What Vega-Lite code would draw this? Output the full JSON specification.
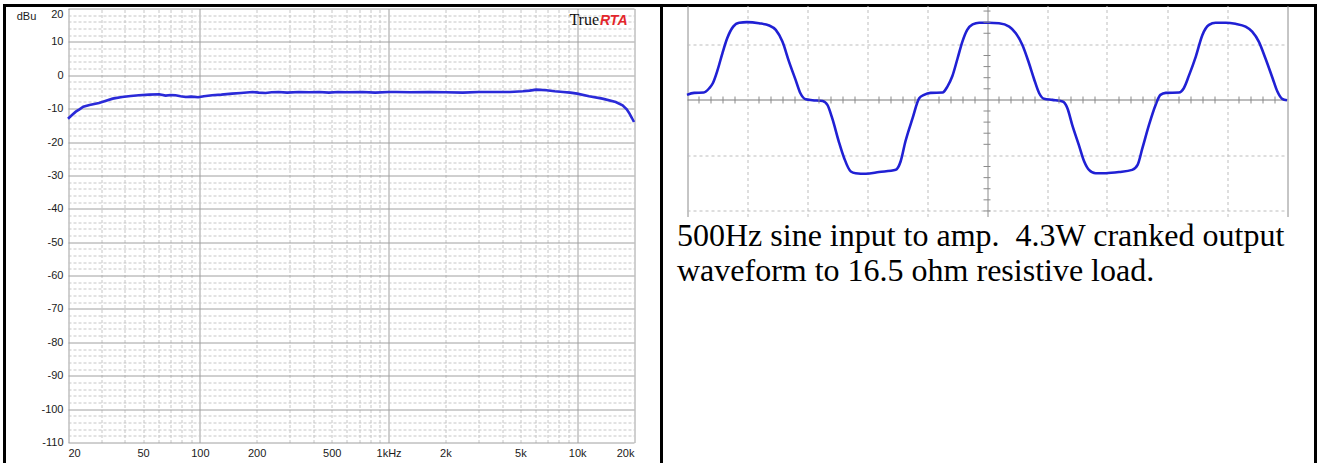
{
  "$schema": "https://vega.github.io/schema/vega-lite/v6.json",
  "background": "white",
  "padding": {"left": 2.5, "top": 3.5, "right": 0, "bottom": 0},
  "spacing": 0,
  "bounds": "flush",
  "config": {
    "view": {"stroke": "#000", "strokeWidth": 3},
    "axis": {"labelFont": "Liberation Sans", "labelFontSize": 11, "labelColor": "#1a1a1a", "titleFont": "Liberation Sans"}
  },
  "hconcat": [
    {
      "width": 657,
      "height": 461,
      "resolve": {"axis": {"x": "independent"}},
      "layer": [
        {
          "data": {"values": [
            {"f": 20, "db": -13.0}, {"f": 21, "db": -11.9}, {"f": 22, "db": -10.9}, {"f": 23, "db": -10.2},
            {"f": 24.1, "db": -9.4}, {"f": 26, "db": -8.9}, {"f": 29.2, "db": -8.3}, {"f": 31.5, "db": -7.7},
            {"f": 34.5, "db": -7.0}, {"f": 38.7, "db": -6.5}, {"f": 43, "db": -6.2}, {"f": 47.5, "db": -6.0},
            {"f": 54, "db": -5.8}, {"f": 60.8, "db": -5.7}, {"f": 65.9, "db": -6.1}, {"f": 70, "db": -5.9},
            {"f": 74.3, "db": -6.0}, {"f": 79, "db": -6.3}, {"f": 84, "db": -6.5}, {"f": 90, "db": -6.4},
            {"f": 98, "db": -6.6}, {"f": 105, "db": -6.3}, {"f": 116, "db": -6.0}, {"f": 130, "db": -5.8},
            {"f": 148, "db": -5.5}, {"f": 165, "db": -5.3}, {"f": 190, "db": -5.0}, {"f": 205, "db": -5.2},
            {"f": 223, "db": -5.3}, {"f": 240, "db": -5.1}, {"f": 262, "db": -5.0}, {"f": 290, "db": -5.2},
            {"f": 335, "db": -5.0}, {"f": 380, "db": -5.1}, {"f": 430, "db": -5.0}, {"f": 483, "db": -5.2},
            {"f": 540, "db": -5.0}, {"f": 600, "db": -5.1}, {"f": 726, "db": -5.0}, {"f": 850, "db": -5.2},
            {"f": 1000, "db": -5.0}, {"f": 1095, "db": -5.0}, {"f": 1300, "db": -5.1}, {"f": 1646, "db": -5.0},
            {"f": 2000, "db": -5.1}, {"f": 2473, "db": -5.2}, {"f": 3000, "db": -5.0}, {"f": 3717, "db": -5.0},
            {"f": 4400, "db": -5.0}, {"f": 5150, "db": -4.8}, {"f": 5600, "db": -4.6}, {"f": 6066, "db": -4.3},
            {"f": 6864, "db": -4.5}, {"f": 7600, "db": -4.8}, {"f": 8420, "db": -5.0}, {"f": 9200, "db": -5.2},
            {"f": 10000, "db": -5.5}, {"f": 11560, "db": -6.3}, {"f": 13590, "db": -7.0}, {"f": 16000, "db": -8.0},
            {"f": 17400, "db": -9.0}, {"f": 18300, "db": -10.2}, {"f": 18940, "db": -11.5}, {"f": 19500, "db": -12.8},
            {"f": 20000, "db": -14.0}
          ]},
          "mark": {"type": "line", "color": "#2a2ad8", "strokeWidth": 2.6, "clip": false},
          "encoding": {
            "x": {
              "field": "f", "type": "quantitative",
              "scale": {"type": "log", "domain": [20, 20000], "range": [63.5, 629.5], "nice": false},
              "axis": {
                "orient": "top", "title": null, "labels": false, "domain": false, "ticks": false, "tickCount": 200,
                "values": [20, 30, 40, 50, 60, 70, 80, 90, 100, 200, 300, 400, 500, 600, 700, 800, 900, 1000, 2000, 3000, 4000, 5000, 6000, 7000, 8000, 9000, 10000, 20000],
                "grid": true,
                "gridColor": {"condition": {"test": "datum.value==20 || datum.value==100 || datum.value==1000 || datum.value==10000 || datum.value==20000", "value": "#a0a0a0"}, "value": "#c6c6c6"},
                "gridDash": {"condition": {"test": "datum.value==20 || datum.value==100 || datum.value==1000 || datum.value==10000 || datum.value==20000", "value": []}, "value": [3, 2]}
              }
            },
            "y": {
              "field": "db", "type": "quantitative",
              "scale": {"domain": [-110, 20], "range": [437, 3], "nice": false, "zero": false},
              "axis": {
                "title": "dBu", "titleAngle": 0, "titleX": -42, "titleY": 11, "titleAlign": "center", "titleBaseline": "middle",
                "titleFontSize": 11, "titleFontWeight": "normal", "titleColor": "#1a1a1a",
                "offset": -63.5, "domain": false, "ticks": false, "tickSize": 0, "labelPadding": 5, "tickCount": 200,
                "values": [-110, -108, -106, -104, -102, -100, -98, -96, -94, -92, -90, -88, -86, -84, -82, -80, -78, -76, -74, -72, -70, -68, -66, -64, -62, -60, -58, -56, -54, -52, -50, -48, -46, -44, -42, -40, -38, -36, -34, -32, -30, -28, -26, -24, -22, -20, -18, -16, -14, -12, -10, -8, -6, -4, -2, 0, 2, 4, 6, 8, 10, 12, 14, 16, 18, 20],
                "labelExpr": "datum.value % 10 == 0 ? '' + datum.value : ''",
                "labelBaseline": {"condition": {"test": "datum.value == 20", "value": "top"}, "value": "middle"},
                "labelOverlap": false,
                "grid": true,
                "gridColor": {"condition": {"test": "datum.value % 10 == 0", "value": "#a0a0a0"}, "value": "#c6c6c6"},
                "gridDash": {"condition": {"test": "datum.value % 10 == 0", "value": []}, "value": [3, 2]}
              }
            }
          }
        },
        {
          "data": {"values": [{"logo": "True"}]},
          "mark": {"type": "text", "align": "right", "baseline": "alphabetic", "font": "Liberation Serif", "fontSize": 16, "color": "#111"},
          "encoding": {
            "text": {"field": "logo"},
            "x": {
              "datum": 13050, "type": "quantitative",
              "axis": {
                "orient": "bottom", "title": null, "offset": -24, "grid": false, "domain": false, "ticks": false, "tickSize": 0,
                "labelPadding": 5, "tickCount": 200, "labelOverlap": false,
                "values": [20, 50, 100, 200, 500, 1000, 2000, 5000, 10000, 20000],
                "labelExpr": "datum.value==1000?'1kHz':datum.value>=2000?(datum.value/1000)+'k':''+datum.value"
              }
            },
            "y": {"datum": 15.2, "type": "quantitative"}
          }
        },
        {
          "data": {"values": [{"logo": "RTA"}]},
          "mark": {"type": "text", "align": "left", "dx": 1, "baseline": "alphabetic", "font": "Liberation Sans", "fontSize": 14, "fontWeight": "bold", "fontStyle": "italic", "color": "#e3262b"},
          "encoding": {
            "text": {"field": "logo"},
            "x": {"datum": 13050, "type": "quantitative", "axis": null},
            "y": {"datum": 15.2, "type": "quantitative"}
          }
        }
      ]
    },
    {
      "width": 654,
      "height": 461,
      "layer": [
        {
          "data": {"values": [
            {"t": 0.0, "v": 0.09}, {"t": 0.12, "v": 0.126}, {"t": 0.28, "v": 0.133}, {"t": 0.37, "v": 0.21},
            {"t": 0.43, "v": 0.3}, {"t": 0.51, "v": 0.54}, {"t": 0.59, "v": 0.84}, {"t": 0.67, "v": 1.11},
            {"t": 0.77, "v": 1.32}, {"t": 0.87, "v": 1.39}, {"t": 1.0, "v": 1.4}, {"t": 1.2, "v": 1.38},
            {"t": 1.37, "v": 1.34}, {"t": 1.48, "v": 1.26}, {"t": 1.59, "v": 1.05}, {"t": 1.7, "v": 0.69},
            {"t": 1.81, "v": 0.36}, {"t": 1.89, "v": 0.12}, {"t": 1.98, "v": 0.01}, {"t": 2.09, "v": -0.005},
            {"t": 2.26, "v": -0.02}, {"t": 2.34, "v": -0.09}, {"t": 2.42, "v": -0.33}, {"t": 2.53, "v": -0.75},
            {"t": 2.62, "v": -1.05}, {"t": 2.73, "v": -1.29}, {"t": 2.81, "v": -1.32}, {"t": 2.98, "v": -1.33},
            {"t": 3.2, "v": -1.3}, {"t": 3.48, "v": -1.26}, {"t": 3.56, "v": -1.11}, {"t": 3.64, "v": -0.75},
            {"t": 3.76, "v": -0.33}, {"t": 3.87, "v": 0.03}, {"t": 3.95, "v": 0.09}, {"t": 4.06, "v": 0.126},
            {"t": 4.26, "v": 0.133}, {"t": 4.34, "v": 0.24}, {"t": 4.42, "v": 0.42}, {"t": 4.51, "v": 0.75},
            {"t": 4.59, "v": 1.05}, {"t": 4.67, "v": 1.26}, {"t": 4.76, "v": 1.36}, {"t": 4.87, "v": 1.39},
            {"t": 5.03, "v": 1.39}, {"t": 5.2, "v": 1.38}, {"t": 5.37, "v": 1.32}, {"t": 5.48, "v": 1.2},
            {"t": 5.59, "v": 0.99}, {"t": 5.7, "v": 0.66}, {"t": 5.78, "v": 0.39}, {"t": 5.87, "v": 0.12},
            {"t": 5.95, "v": 0.02}, {"t": 6.09, "v": 0.0}, {"t": 6.26, "v": -0.03}, {"t": 6.34, "v": -0.15},
            {"t": 6.42, "v": -0.45}, {"t": 6.53, "v": -0.81}, {"t": 6.62, "v": -1.11}, {"t": 6.7, "v": -1.26},
            {"t": 6.81, "v": -1.32}, {"t": 6.98, "v": -1.32}, {"t": 7.2, "v": -1.3}, {"t": 7.42, "v": -1.26},
            {"t": 7.51, "v": -1.17}, {"t": 7.59, "v": -0.87}, {"t": 7.7, "v": -0.45}, {"t": 7.81, "v": -0.09},
            {"t": 7.89, "v": 0.09}, {"t": 7.98, "v": 0.126}, {"t": 8.2, "v": 0.133}, {"t": 8.28, "v": 0.21},
            {"t": 8.37, "v": 0.45}, {"t": 8.48, "v": 0.78}, {"t": 8.59, "v": 1.17}, {"t": 8.7, "v": 1.35},
            {"t": 8.81, "v": 1.39}, {"t": 8.98, "v": 1.39}, {"t": 9.14, "v": 1.37}, {"t": 9.31, "v": 1.32},
            {"t": 9.42, "v": 1.23}, {"t": 9.53, "v": 1.05}, {"t": 9.64, "v": 0.75}, {"t": 9.76, "v": 0.39},
            {"t": 9.84, "v": 0.15}, {"t": 9.92, "v": 0.02}, {"t": 10.0, "v": -0.005}
          ]},
          "mark": {"type": "line", "color": "#2020d4", "strokeWidth": 2.6, "interpolate": "monotone", "clip": false},
          "encoding": {
            "x": {
              "field": "t", "type": "quantitative",
              "scale": {"domain": [0, 10], "range": [25.5, 625.5], "nice": false, "zero": false},
              "axis": {
                "orient": "top", "title": null, "labels": false, "ticks": false, "domain": false, "tickCount": 100,
                "values": [0, 1, 2, 3, 4, 5, 6, 7, 8, 9, 10],
                "grid": true,
                "gridColor": {"condition": {"test": "datum.value == 0 || datum.value == 5 || datum.value == 10", "value": "#8c8c8c"}, "value": "#bdbdbd"},
                "gridDash": {"condition": {"test": "datum.value == 0 || datum.value == 5 || datum.value == 10", "value": []}, "value": [3, 3]}
              }
            },
            "y": {
              "field": "v", "type": "quantitative",
              "scale": {"domain": [-2.1, 1.7], "range": [211, 0], "nice": false, "zero": false},
              "axis": {
                "title": null, "labels": false, "ticks": false, "domain": false, "tickCount": 100,
                "values": [-2, -1, 0, 1],
                "grid": true,
                "gridColor": {"condition": {"test": "datum.value == 0", "value": "#7a7a7a"}, "value": "#bdbdbd"},
                "gridDash": {"condition": {"test": "datum.value == 0", "value": []}, "value": [3, 3]}
              }
            }
          }
        },
        {
          "data": {"values": [
            {"t": 0.2}, {"t": 0.4}, {"t": 0.6}, {"t": 0.8}, {"t": 1.2}, {"t": 1.4}, {"t": 1.6}, {"t": 1.8},
            {"t": 2.2}, {"t": 2.4}, {"t": 2.6}, {"t": 2.8}, {"t": 3.2}, {"t": 3.4}, {"t": 3.6}, {"t": 3.8},
            {"t": 4.2}, {"t": 4.4}, {"t": 4.6}, {"t": 4.8}, {"t": 5.2}, {"t": 5.4}, {"t": 5.6}, {"t": 5.8},
            {"t": 6.2}, {"t": 6.4}, {"t": 6.6}, {"t": 6.8}, {"t": 7.2}, {"t": 7.4}, {"t": 7.6}, {"t": 7.8},
            {"t": 8.2}, {"t": 8.4}, {"t": 8.6}, {"t": 8.8}, {"t": 9.2}, {"t": 9.4}, {"t": 9.6}, {"t": 9.8}
          ]},
          "mark": {"type": "tick", "orient": "vertical", "size": 7, "thickness": 1, "color": "#8a8a8a", "opacity": 1},
          "encoding": {
            "x": {"field": "t", "type": "quantitative"},
            "y": {"datum": 0, "type": "quantitative"}
          }
        },
        {
          "data": {"values": [
            {"v": -2.0}, {"v": -1.8}, {"v": -1.6}, {"v": -1.4}, {"v": -1.2}, {"v": -0.8}, {"v": -0.6}, {"v": -0.4},
            {"v": -0.2}, {"v": 0.2}, {"v": 0.4}, {"v": 0.6}, {"v": 0.8}, {"v": 1.2}, {"v": 1.4}, {"v": 1.6}
          ]},
          "mark": {"type": "tick", "orient": "horizontal", "size": 7, "thickness": 1, "color": "#8a8a8a", "opacity": 1},
          "encoding": {
            "x": {"datum": 5, "type": "quantitative"},
            "y": {"field": "v", "type": "quantitative"}
          }
        },
        {
          "data": {"values": [{"caption": ["500Hz sine input to amp.\u00a0 4.3W cranked output", "waveform to 16.5 ohm resistive load."]}]},
          "mark": {
            "type": "text", "align": "left", "baseline": "alphabetic",
            "font": "Liberation Serif", "fontSize": 32, "lineHeight": 35, "color": "#000"
          },
          "encoding": {
            "text": {"field": "caption"},
            "x": {"datum": -0.167, "type": "quantitative"},
            "y": {"datum": -2.64, "type": "quantitative"}
          }
        }
      ]
    }
  ]
}
